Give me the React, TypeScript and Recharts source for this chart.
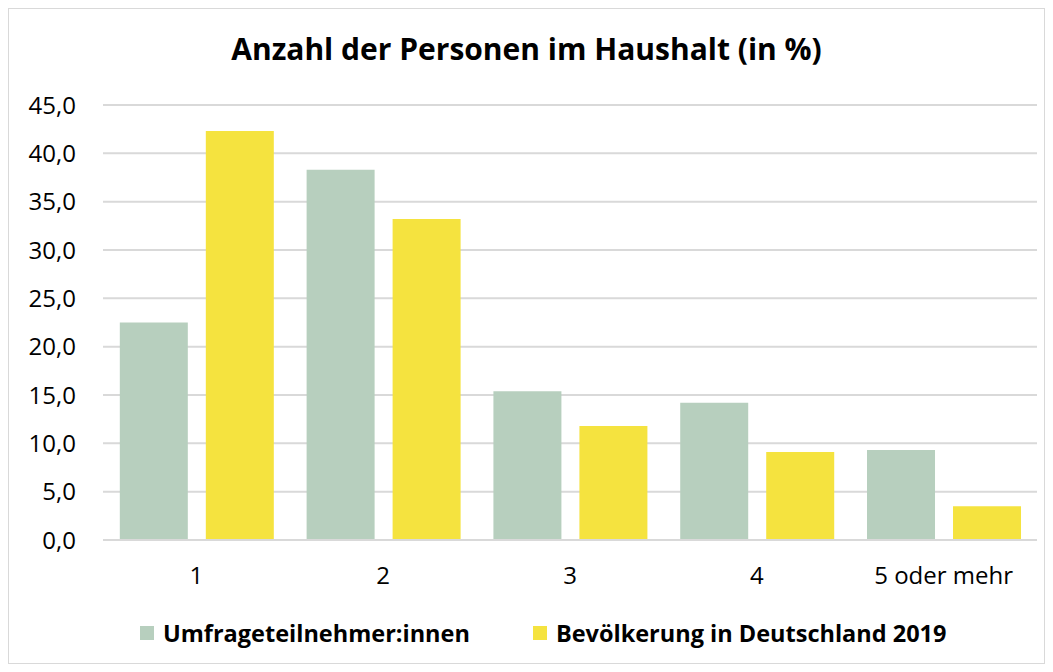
import React from "react";
import { BarChart, Bar, XAxis, YAxis, CartesianGrid } from "recharts";

const categories = ["1", "2", "3", "4", "5 oder mehr"];
const umfrage = [22.5, 38.3, 15.4, 14.2, 9.3];
const bevoelkerung = [42.3, 33.2, 11.8, 9.1, 3.5];
const yTicks = [0, 5, 10, 15, 20, 25, 30, 35, 40, 45];
const seriesNames = ["Umfrageteilnehmer:innen", "Bevölkerung in Deutschland 2019"];
const colors = ["#B7CFBE", "#F5E33F"];

const data = categories.map((c, i) => ({ cat: c, a: umfrage[i], b: bevoelkerung[i] }));

const FONT = "'Open Sans', 'Noto Sans', sans-serif";

export default function App() {
  return (
    <div style={{ position: "relative", width: 1035, height: 654, border: "1px solid #D9D9D9", background: "#fff" }}>
      <div style={{ position: "absolute", top: 20, left: 0, width: 1035, textAlign: "center", fontFamily: FONT, fontWeight: 700, fontSize: 30, color: "#000", lineHeight: "40px" }}>
        Anzahl der Personen im Haushalt (in %)
      </div>
      <BarChart width={1035} height={654} data={data} margin={{ top: 96, right: 7, bottom: 93, left: 0 }} barGap={18} barCategoryGap="9%">
        <CartesianGrid vertical={false} stroke="#D9D9D9" strokeWidth={2} />
        <XAxis dataKey="cat" height={30} axisLine={{ stroke: "#D9D9D9", strokeWidth: 2 }} tickLine={false} tickSize={0} tickMargin={27} tick={{ fill: "#000", fontSize: 24, fontFamily: FONT }} interval={0} />
        <YAxis width={94} domain={[0, 45]} ticks={yTicks} axisLine={false} tickLine={false} tickSize={0} tickMargin={27} tickFormatter={(v: number) => v.toFixed(1).replace(".", ",")} tick={{ fill: "#000", fontSize: 24, fontFamily: FONT }} />
        <Bar dataKey="a" name={seriesNames[0]} fill={colors[0]} isAnimationActive={false} />
        <Bar dataKey="b" name={seriesNames[1]} fill={colors[1]} isAnimationActive={false} />
      </BarChart>
      <div style={{ position: "absolute", top: 606, left: 131, display: "flex", alignItems: "center", fontFamily: FONT, fontWeight: 700, fontSize: 23.5, color: "#000", lineHeight: "36px" }}>
        {seriesNames.map((n, i) => (
          <div key={n} style={{ display: "flex", alignItems: "center", marginRight: i === 0 ? 63 : 0 }}>
            <span style={{ display: "inline-block", width: 14, height: 14, background: colors[i], marginRight: 9 }} />
            <span>{n}</span>
          </div>
        ))}
      </div>
    </div>
  );
}
